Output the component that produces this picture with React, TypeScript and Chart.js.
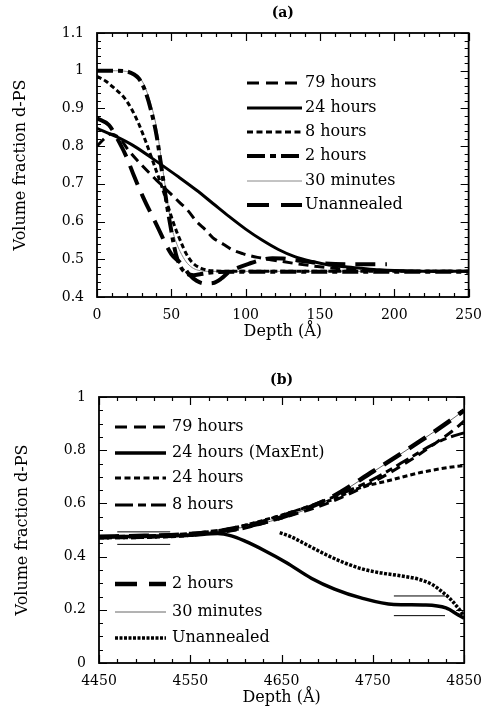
import React, { useEffect, useRef } from "react";
import { Chart, registerables } from "chart.js";
Chart.register(...registerables);

const SERIF = "'DejaVu Serif', serif";

// ---------- Panel (a) data ----------
const aXTicks = [0, 50, 100, 150, 200, 250];
const aYTicks = [0.4, 0.5, 0.6, 0.7, 0.8, 0.9, 1.0, 1.1];

const a79Depth = [0, 5, 9, 15, 21, 30, 40, 50, 56, 61, 67, 73, 78, 85, 91, 98, 108, 120, 133, 150, 170, 200, 250];
const a79Frac = [0.8, 0.82, 0.832, 0.822, 0.79, 0.75, 0.71, 0.672, 0.649, 0.63, 0.6, 0.578, 0.557, 0.54, 0.525, 0.515, 0.505, 0.497, 0.489, 0.48, 0.473, 0.469, 0.468];

const a24Depth = [0, 13, 25, 41, 55, 67, 78, 89, 100, 111, 122, 133, 145, 156, 167, 178, 190, 200, 225, 250];
const a24Frac = [0.847, 0.825, 0.8, 0.757, 0.718, 0.683, 0.648, 0.613, 0.58, 0.551, 0.526, 0.507, 0.494, 0.485, 0.48, 0.476, 0.472, 0.47, 0.468, 0.468];

const a8Depth = [0, 6, 12, 18, 23, 28, 33, 38, 43, 48, 52, 56, 60, 64, 70, 80, 100, 250];
const a8Frac = [0.985, 0.972, 0.952, 0.93, 0.9, 0.86, 0.81, 0.755, 0.7, 0.638, 0.59, 0.55, 0.515, 0.492, 0.476, 0.469, 0.468, 0.468];

const a2Depth = [0, 10, 20, 25, 28, 31, 33, 36, 40, 44, 47, 50, 53, 56, 60, 65, 70, 80, 100, 250];
const a2Frac = [1.0, 1.0, 0.998, 0.99, 0.98, 0.96, 0.94, 0.9, 0.83, 0.725, 0.645, 0.575, 0.515, 0.482, 0.463, 0.458, 0.461, 0.466, 0.467, 0.467];

const a30Depth = [0, 10, 20, 25, 28, 31, 33, 36, 40, 44, 47, 50, 53, 56, 60, 64, 68, 75, 100, 250];
const a30Frac = [1.0, 1.0, 0.998, 0.993, 0.985, 0.968, 0.95, 0.915, 0.85, 0.745, 0.665, 0.59, 0.548, 0.52, 0.493, 0.478, 0.471, 0.468, 0.468, 0.468];

const aUnDepth = [0, 8, 15, 20, 25, 31, 40, 50, 57, 62, 67, 72, 78, 84, 89, 95, 102, 110, 118, 125, 135, 150, 170, 195];
const aUnFrac = [0.874, 0.856, 0.81, 0.77, 0.72, 0.665, 0.592, 0.514, 0.487, 0.46, 0.443, 0.436, 0.437, 0.45, 0.467, 0.478, 0.488, 0.498, 0.503, 0.502, 0.497, 0.49, 0.487, 0.487];

// ---------- Panel (b) data ----------
const bXTicks = [4450, 4550, 4650, 4750, 4850];
const bYTicks = [0, 0.2, 0.4, 0.6, 0.8, 1];

const b79Depth = [4450, 4500, 4550, 4600, 4650, 4700, 4750, 4790, 4820, 4840, 4850];
const b79Frac = [0.47, 0.472, 0.48, 0.5, 0.545, 0.6, 0.68, 0.76, 0.83, 0.88, 0.91];

const bMaxDepth = [4450, 4500, 4550, 4580, 4595, 4610, 4630, 4655, 4683, 4708, 4737, 4773, 4808, 4830, 4844, 4850];
const bMaxFrac = [0.475, 0.476, 0.48, 0.487, 0.478, 0.458, 0.425, 0.378, 0.318, 0.278, 0.245, 0.22, 0.218, 0.207, 0.18, 0.168];

const b24Depth = [4450, 4500, 4550, 4600, 4644, 4680, 4705, 4733, 4770, 4805, 4839, 4850];
const b24Frac = [0.47, 0.472, 0.48, 0.51, 0.55, 0.588, 0.613, 0.655, 0.688, 0.718, 0.738, 0.742];

const b8Depth = [4450, 4500, 4550, 4600, 4650, 4700, 4750, 4790, 4815, 4835, 4850];
const b8Frac = [0.475, 0.478, 0.487, 0.51, 0.555, 0.615, 0.69, 0.77, 0.82, 0.85, 0.865];

const b2Depth = [4450, 4500, 4550, 4600, 4650, 4700, 4750, 4800, 4830, 4850];
const b2Frac = [0.475, 0.478, 0.485, 0.505, 0.548, 0.615, 0.72, 0.83, 0.9, 0.95];

const b30Depth = [4450, 4500, 4550, 4600, 4650, 4700, 4750, 4800, 4830, 4850];
const b30Frac = [0.478, 0.48, 0.487, 0.505, 0.545, 0.612, 0.718, 0.83, 0.9, 0.95];

const bUnDepth = [4648, 4660, 4680, 4700, 4720, 4740, 4760, 4780, 4800, 4815, 4825, 4835, 4845, 4850];
const bUnFrac = [0.49, 0.475, 0.44, 0.405, 0.375, 0.352, 0.338, 0.328, 0.315, 0.295, 0.27, 0.24, 0.2, 0.175];

const bBoundLeftDepth = [4470, 4528];
const bBoundLeftUpper = [0.493, 0.493];
const bBoundLeftLower = [0.446, 0.446];
const bBoundRightDepth = [4773, 4829];
const bBoundRightUpper = [0.252, 0.252];
const bBoundRightLower = [0.178, 0.178];

const pts = (xs: number[], ys: number[]) => xs.map((x, i) => ({ x, y: ys[i] }));

const line = (label: string, xs: number[], ys: number[], width: number, dash: number[], color = "#000") => ({
  label,
  data: pts(xs, ys),
  borderColor: color,
  borderWidth: width,
  borderDash: dash,
  pointRadius: 0,
  fill: false,
  cubicInterpolationMode: "monotone" as const,
});

type LegendRow = { ds: number; y: number; dash?: number[] };

const framePlugin = (minorX: number, minorY: number, majorX: number, majorY: number) => ({
  id: "frameTicks",
  afterDatasetsDraw(chart: any) {
    const { ctx, chartArea } = chart;
    const { left, right, top, bottom } = chartArea;
    const xs = chart.scales.x;
    const ys = chart.scales.y;
    ctx.save();
    ctx.strokeStyle = "#000";
    ctx.lineWidth = 1.8;
    ctx.strokeRect(left, top, right - left, bottom - top);
    ctx.lineWidth = 1.2;
    const isMajor = (v: number, min: number, step: number) => {
      const r = (v - min) / step;
      return Math.abs(r - Math.round(r)) < 1e-6;
    };
    ctx.beginPath();
    const nx = Math.round((xs.max - xs.min) / minorX);
    for (let i = 0; i <= nx; i++) {
      const v = xs.min + i * minorX;
      const px = Math.round(xs.getPixelForValue(v)) + 0.5;
      const len = isMajor(v, xs.min, majorX) ? 8 : 4;
      ctx.moveTo(px, bottom);
      ctx.lineTo(px, bottom - len);
      ctx.moveTo(px, top);
      ctx.lineTo(px, top + len);
    }
    const ny = Math.round((ys.max - ys.min) / minorY);
    for (let i = 0; i <= ny; i++) {
      const v = ys.min + i * minorY;
      const py = Math.round(ys.getPixelForValue(v)) + 0.5;
      const len = isMajor(v, ys.min, majorY) ? 8 : 4;
      ctx.moveTo(left, py);
      ctx.lineTo(left + len, py);
      ctx.moveTo(right, py);
      ctx.lineTo(right - len, py);
    }
    ctx.stroke();
    ctx.restore();
  },
});

const legendPlugin = (rows: LegendRow[], x0: number, x1: number, tx: number, title: string, titleY: number) => ({
  id: "customLegend",
  afterDraw(chart: any) {
    const { ctx, chartArea } = chart;
    ctx.save();
    ctx.fillStyle = "#000";
    ctx.font = `bold 14px ${SERIF}`;
    ctx.textAlign = "center";
    ctx.textBaseline = "middle";
    ctx.fillText(title, (chartArea.left + chartArea.right) / 2, titleY);
    ctx.font = `16px ${SERIF}`;
    ctx.textAlign = "left";
    rows.forEach((r) => {
      const ds = chart.data.datasets[r.ds];
      ctx.beginPath();
      ctx.strokeStyle = ds.borderColor;
      ctx.lineWidth = ds.borderWidth;
      ctx.setLineDash(r.dash || ds.borderDash || []);
      ctx.moveTo(x0, r.y);
      ctx.lineTo(x1, r.y);
      ctx.stroke();
      ctx.setLineDash([]);
      ctx.fillText(ds.label, tx, r.y);
    });
    ctx.restore();
  },
});

const fmt = (v: any) => String(Math.round(Number(v) * 1000) / 1000);

const makeScales = (
  xMin: number, xMax: number, xStep: number, yMin: number, yMax: number, yStep: number,
  xTicks: number[], yTicks: number[]
) => ({
  x: {
    type: "linear" as const,
    min: xMin,
    max: xMax,
    afterBuildTicks: (s: any) => { s.ticks = xTicks.map((v) => ({ value: v })); },
    ticks: { stepSize: xStep, font: { family: SERIF, size: 14 }, color: "#000", padding: 10, maxRotation: 0, autoSkip: false, callback: fmt },
    grid: { display: false, drawTicks: false },
    border: { display: false },
    title: { display: true, text: "Depth (Å)", font: { family: SERIF, size: 16 }, color: "#000", padding: 0 },
    afterFit: (s: any) => { s.height = 44; },
  },
  y: {
    type: "linear" as const,
    min: yMin,
    max: yMax,
    afterBuildTicks: (s: any) => { s.ticks = yTicks.map((v) => ({ value: v })); },
    ticks: { stepSize: yStep, font: { family: SERIF, size: 14 }, color: "#000", padding: 13, autoSkip: false, callback: fmt },
    grid: { display: false, drawTicks: false },
    border: { display: false },
    title: { display: true, text: "Volume fraction d-PS", font: { family: SERIF, size: 16 }, color: "#000", padding: { top: 11, bottom: 0 } },
    afterFit: (s: any) => { s.width = 97; },
  },
});

function PanelA() {
  const ref = useRef<HTMLCanvasElement>(null);
  useEffect(() => {
    const datasets = [
      line("79 hours", a79Depth, a79Frac, 3, [10, 6]),
      line("24 hours", a24Depth, a24Frac, 3, []),
      line("8 hours", a8Depth, a8Frac, 3, [5, 3]),
      line("2 hours", a2Depth, a2Frac, 4, [16, 5, 5, 5]),
      line("30 minutes", a30Depth, a30Frac, 1, [], "#888"),
      line("Unannealed", aUnDepth, aUnFrac, 4, [20, 10]),
    ];
    const rows: LegendRow[] = [
      { ds: 0, y: 83, dash: [12, 7] },
      { ds: 1, y: 108 },
      { ds: 2, y: 132, dash: [6, 3.5] },
      { ds: 3, y: 156, dash: [18, 5, 6, 5] },
      { ds: 4, y: 181 },
      { ds: 5, y: 205, dash: [22, 12] },
    ];
    const chart = new Chart(ref.current!, {
      type: "line",
      data: { datasets: datasets as any },
      options: {
        responsive: false,
        animation: false,
        layout: { padding: { left: 0, right: 20, top: 33, bottom: 4 } },
        plugins: { legend: { display: false }, tooltip: { enabled: false }, title: { display: false } },
        scales: makeScales(0, 250, 50, 0.4, 1.1, 0.1, aXTicks, aYTicks) as any,
      },
      plugins: [framePlugin(10, 0.02, 50, 0.1), legendPlugin(rows, 247, 302, 305, "(a)", 13)],
    });
    return () => chart.destroy();
  }, []);
  return <canvas ref={ref} width={492} height={345} style={{ position: "absolute", left: 0, top: 0 }} />;
}

function PanelB() {
  const ref = useRef<HTMLCanvasElement>(null);
  useEffect(() => {
    const datasets = [
      line("79 hours", b79Depth, b79Frac, 3, [10, 6]),
      line("24 hours (MaxEnt)", bMaxDepth, bMaxFrac, 3.5, []),
      line("24 hours", b24Depth, b24Frac, 3, [5, 3]),
      line("8 hours", b8Depth, b8Frac, 3, [14, 5, 7, 5]),
      line("2 hours", b2Depth, b2Frac, 4.5, [20, 10]),
      line("30 minutes", b30Depth, b30Frac, 1, [], "#666"),
      line("Unannealed", bUnDepth, bUnFrac, 3.5, [3, 1.5]),
      line("", bBoundLeftDepth, bBoundLeftUpper, 1, []),
      line("", bBoundLeftDepth, bBoundLeftLower, 1, []),
      line("", bBoundRightDepth, bBoundRightUpper, 1, []),
      line("", bBoundRightDepth, bBoundRightLower, 1, []),
    ];
    const rows: LegendRow[] = [
      { ds: 0, y: 427, dash: [12, 7] },
      { ds: 1, y: 453 },
      { ds: 2, y: 478, dash: [6, 3.5] },
      { ds: 3, y: 505, dash: [18, 5, 8, 5] },
      { ds: 4, y: 584, dash: [22, 12] },
      { ds: 5, y: 612 },
      { ds: 6, y: 638 },
    ].map((r) => ({ ...r, y: r.y - 360 }));
    const chart = new Chart(ref.current!, {
      type: "line",
      data: { datasets: datasets as any },
      options: {
        responsive: false,
        animation: false,
        layout: { padding: { left: 2, right: 20, top: 37, bottom: 12 } },
        plugins: { legend: { display: false }, tooltip: { enabled: false }, title: { display: false } },
        scales: makeScales(4450, 4850, 100, 0, 1, 0.2, bXTicks, bYTicks) as any,
      },
      plugins: [framePlugin(20, 0.05, 100, 0.2), legendPlugin(rows, 115, 166, 172, "(b)", 20)],
    });
    return () => chart.destroy();
  }, []);
  return <canvas ref={ref} width={492} height={359} style={{ position: "absolute", left: 0, top: 360 }} />;
}

export default function App() {
  return (
    <div style={{ position: "absolute", left: 0, top: 0, width: 492, height: 719, background: "#fff" }}>
      <PanelA />
      <PanelB />
    </div>
  );
}
